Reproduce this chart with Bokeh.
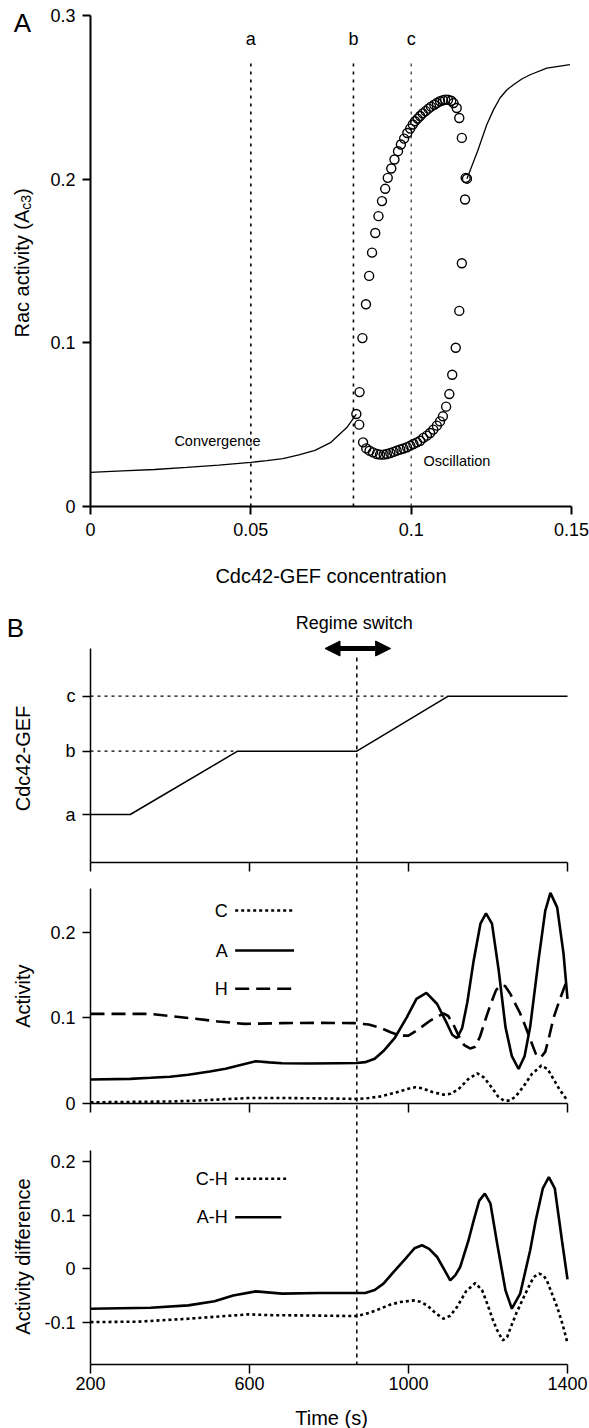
import math
from bokeh.plotting import figure
from bokeh.layouts import column
from bokeh.models import FixedTicker, Arrow, NormalHead, LinearAxis, Range1d
from bokeh.embed import file_html
from bokeh.resources import INLINE
from bokeh.core.properties import value

FONT = "Liberation Sans"

# ---------------- Panel A data ----------------
a_x_ticks = [0, 0.05, 0.1, 0.15]
a_x_labels = ["0", "0.05", "0.1", "0.15"]
a_y_ticks = [0, 0.1, 0.2, 0.3]
a_y_labels = ["0", "0.1", "0.2", "0.3"]

conv_x = [0, 0.01, 0.02, 0.03, 0.04, 0.05, 0.055, 0.06, 0.065, 0.07, 0.075, 0.08, 0.0829]
conv_y = [0.0209, 0.0218, 0.0226, 0.0239, 0.0253, 0.0270, 0.0280, 0.0293, 0.0315, 0.0343, 0.0392, 0.0484, 0.0565]

hi_x = [0.1174, 0.1207, 0.1236, 0.1257, 0.1277, 0.1298, 0.1319, 0.1345, 0.1371, 0.1423, 0.1495]
hi_y = [0.2003, 0.2171, 0.2334, 0.2425, 0.2496, 0.2545, 0.2577, 0.2612, 0.2638, 0.2679, 0.2700]

osc_max_x = [0.0829, 0.0839, 0.0848, 0.0859, 0.0869, 0.0878, 0.0888, 0.0898, 0.0909, 0.0919,
             0.0927, 0.0938, 0.0948, 0.0959, 0.0968, 0.0978, 0.0988, 0.0997, 0.1005, 0.1012,
             0.1020, 0.1028, 0.1036, 0.1045, 0.1054, 0.1062, 0.1072, 0.1080, 0.1090, 0.1099,
             0.1106, 0.1115, 0.1125, 0.1132, 0.1142, 0.1150, 0.1158, 0.1170, 0.1174]
osc_max_y = [0.0565, 0.0699, 0.1029, 0.1236, 0.1409, 0.1551, 0.1671, 0.1774, 0.1866, 0.1941,
             0.2008, 0.2065, 0.2120, 0.2171, 0.2212, 0.2248, 0.2282, 0.2309, 0.2334, 0.2354,
             0.2370, 0.2386, 0.2402, 0.2416, 0.2431, 0.2443, 0.2455, 0.2465, 0.2476, 0.2482,
             0.2486, 0.2485, 0.2479, 0.2465, 0.2435, 0.2374, 0.2252, 0.2008, 0.2003]

osc_min_x = [0.0838, 0.0850, 0.0860, 0.0870, 0.0881, 0.0893, 0.0903, 0.0914, 0.0924, 0.0935,
             0.0945, 0.0955, 0.0966, 0.0976, 0.0987, 0.0997, 0.1007, 0.1018, 0.1028, 0.1038,
             0.1049, 0.1059, 0.1069, 0.1080, 0.1090, 0.1099, 0.1109, 0.1119, 0.1128, 0.1139,
             0.1150, 0.1158, 0.1168]
osc_min_y = [0.0500, 0.0392, 0.0355, 0.0341, 0.0331, 0.0321, 0.0317, 0.0317, 0.0321, 0.0327,
             0.0334, 0.0341, 0.0348, 0.0354, 0.0362, 0.0372, 0.0382, 0.0392, 0.0402, 0.0419,
             0.0433, 0.0449, 0.0470, 0.0494, 0.0520, 0.0551, 0.0610, 0.0687, 0.0805, 0.0970,
             0.1195, 0.1486, 0.1876]

marker_names = ["a", "b", "c"]
marker_gef = [0.05, 0.082, 0.1]

# ---------------- Panel B data ----------------
b_x_ticks = [200, 600, 1000, 1400]
b_x_labels = ["200", "600", "1000", "1400"]

gef_level_names = ["a", "b", "c"]
gef_level_pos = [0.0, 1.15, 2.15]          # schematic axis positions of a, b, c
gef_t = [200, 300, 570, 870, 1100, 1400]
gef_level = [0, 0, 1, 1, 2, 2]
switch_time = 870
arrow_t = [790, 955]

act_ticks = [0, 0.1, 0.2]
act_labels = ["0", "0.1", "0.2"]

C_t = [200, 300, 400, 464, 530, 597, 700, 800, 871, 900, 930, 965, 1000, 1017, 1035, 1060,
       1088, 1105, 1125, 1150, 1173, 1190, 1210, 1225, 1240, 1255, 1270, 1290, 1310, 1334,
       1350, 1365, 1380, 1400]
C_y = [0.001, 0.0015, 0.002, 0.003, 0.0045, 0.006, 0.006, 0.0055, 0.005, 0.006, 0.008, 0.012,
       0.017, 0.0187, 0.0175, 0.013, 0.010, 0.011, 0.016, 0.028, 0.035, 0.030, 0.018, 0.008,
       0.003, 0.003, 0.008, 0.020, 0.034, 0.044, 0.040, 0.028, 0.016, 0.003]

A_t = [200, 300, 351, 400, 446, 500, 540, 580, 616, 650, 682, 750, 824, 870, 891, 915, 937,
       965, 996, 1020, 1045, 1072, 1097, 1110, 1122, 1135, 1148, 1164, 1181, 1195, 1210, 1227,
       1244, 1260, 1277, 1292, 1306, 1327, 1344, 1357, 1374, 1390, 1400]
A_y = [0.0277, 0.0285, 0.0297, 0.031, 0.0332, 0.037, 0.0402, 0.045, 0.0491, 0.0478, 0.0468,
       0.0465, 0.0468, 0.047, 0.048, 0.052, 0.061, 0.076, 0.1006, 0.122, 0.129, 0.116, 0.093,
       0.080, 0.076, 0.088, 0.118, 0.167, 0.210, 0.222, 0.210, 0.155, 0.089, 0.055, 0.040,
       0.055, 0.089, 0.167, 0.225, 0.246, 0.229, 0.175, 0.122]

H_t = [200, 351, 464, 521, 587, 682, 776, 866, 900, 930, 955, 980, 1000, 1021, 1055, 1088,
       1100, 1113, 1126, 1140, 1155, 1168, 1180, 1193, 1206, 1220, 1231, 1243, 1256, 1270,
       1281, 1294, 1306, 1320, 1332, 1344, 1355, 1365, 1376, 1386, 1400]
H_y = [0.1045, 0.1045, 0.0987, 0.0956, 0.0928, 0.0936, 0.094, 0.0936, 0.092, 0.088, 0.083,
       0.079, 0.079, 0.085, 0.0967, 0.105, 0.102, 0.092, 0.079, 0.068, 0.064, 0.066, 0.078,
       0.097, 0.115, 0.132, 0.1377, 0.137, 0.128, 0.115, 0.105, 0.090, 0.075, 0.058, 0.053,
       0.060, 0.080, 0.100, 0.115, 0.128, 0.1455]

diff_ticks = [-0.1, 0, 0.1, 0.2]
diff_labels = ["-0.1", "0", "0.1", "0.2"]

AH_t = [200, 351, 446, 512, 559, 616, 682, 776, 891, 915, 937, 965, 996, 1015, 1034, 1052,
        1072, 1090, 1105, 1118, 1130, 1151, 1164, 1178, 1192, 1206, 1223, 1244, 1260, 1281,
        1306, 1320, 1338, 1353, 1368, 1386, 1400]
AH_y = [-0.0748, -0.073, -0.0686, -0.061, -0.050, -0.0424, -0.0467, -0.0456, -0.0456, -0.040,
        -0.028, -0.004, 0.0217, 0.038, 0.0436, 0.037, 0.0217, -0.002, -0.0219, -0.012, 0.003,
        0.053, 0.090, 0.127, 0.140, 0.122, 0.047, -0.0406, -0.0748, -0.0467, 0.034, 0.090,
        0.150, 0.171, 0.150, 0.053, -0.020]

CH_t = [200, 320, 446, 530, 597, 660, 729, 800, 871, 900, 929, 955, 979, 1013, 1030, 1047,
        1068, 1088, 1105, 1122, 1145, 1168, 1185, 1198, 1212, 1223, 1237, 1248, 1256, 1272,
        1290, 1305, 1315, 1329, 1340, 1348, 1360, 1374, 1388, 1400]
CH_y = [-0.0998, -0.099, -0.0935, -0.089, -0.0854, -0.087, -0.0873, -0.088, -0.0886, -0.083,
        -0.0748, -0.067, -0.0624, -0.0593, -0.062, -0.0686, -0.083, -0.0935, -0.088, -0.0717,
        -0.042, -0.027, -0.040, -0.0654, -0.095, -0.115, -0.134, -0.128, -0.112, -0.082,
        -0.053, -0.030, -0.0157, -0.0093, -0.013, -0.022, -0.045, -0.0717, -0.105, -0.139]

mid_legend = ["C", "A", "H"]
bot_legend = ["C-H", "A-H"]

# ---------------- layout (page pixels) ----------------
W = 589
A_H = 595            # panel A canvas: page y 0..595
B_TOP, B_BOT = 595, 1428


def pix_map(v0, p0, v1, p1):
    """linear map page-pixel -> data value, given two anchor pairs"""
    k = (v1 - v0) / (p1 - p0)
    return lambda p: v0 + (p - p0) * k


def new_fig(w, h, xr, yr):
    p = figure(width=w, height=h, x_range=xr, y_range=yr, output_backend="svg",
               toolbar_location=None, x_axis_location=None, y_axis_location=None,
               min_border=0, min_border_left=0, min_border_right=0,
               min_border_top=0, min_border_bottom=0)
    p.title.visible = False
    p.grid.visible = False
    p.outline_line_color = None
    p.background_fill_color = "white"
    p.border_fill_color = "white"
    return p


def add_axis(p, side, ticks, labels, size, tick_out, standoff, fixed, bounds,
             width=1.5, y_range_name="default"):
    ax = LinearAxis(fixed_location=fixed, bounds=bounds, y_range_name=y_range_name)
    ax.ticker = FixedTicker(ticks=ticks)
    ax.major_label_overrides = dict(zip(ticks, labels))
    ax.major_label_text_font = FONT
    ax.major_label_text_font_size = size
    ax.major_label_text_color = "black"
    ax.major_tick_out = tick_out
    ax.major_tick_in = 0
    ax.minor_tick_out = 0
    ax.minor_tick_in = 0
    ax.major_label_standoff = standoff
    ax.axis_line_width = width
    ax.axis_line_color = "black"
    ax.major_tick_line_width = width
    ax.major_tick_line_color = "black"
    p.add_layout(ax, side)
    return ax


def txt(p, x, y, text, size, align="center", angle=0.0, y_range_name="default"):
    p.text(x=[x], y=[y], text=[text], text_font=value(FONT), text_font_size=value(size),
           text_align=align, text_baseline="middle", angle=angle, text_color="black",
           y_range_name=y_range_name)


# ================= Panel A =================
ax_px = pix_map(0, 90, 0.15, 571)
ay_px = pix_map(0, 506, 0.3, 15)
pa = new_fig(W, A_H, Range1d(ax_px(0), ax_px(W)), Range1d(ay_px(A_H), ay_px(0)))
add_axis(pa, "below", a_x_ticks, a_x_labels, "18px", 8, 8, 0, (0, 0.15), width=2)
add_axis(pa, "left", a_y_ticks, a_y_labels, "18px", 8, 7, 0, (0, 0.3), width=2)

for g, w in zip(marker_gef, [1.6, 1.6, 1.0]):
    pa.segment(x0=g, y0=0, x1=g, y1=ay_px(58), line_color="black", line_width=w,
               line_dash="3 5")
pa.text(x=marker_gef, y=[ay_px(38)] * 3, text=marker_names, text_font=value(FONT),
        text_font_size=value("18px"), text_align="center", text_baseline="middle")

pa.line(conv_x, conv_y, line_color="black", line_width=1.3)
pa.line(hi_x, hi_y, line_color="black", line_width=1.3)
pa.scatter(osc_max_x, osc_max_y, marker="circle", size=9, fill_color=None,
           line_color="black", line_width=1.4)
pa.scatter(osc_min_x, osc_min_y, marker="circle", size=9, fill_color=None,
           line_color="black", line_width=1.4)
txt(pa, ax_px(217), ay_px(440), "Convergence", "14.5px")
txt(pa, ax_px(423), ay_px(460.7), "Oscillation", "14.5px", align="left")

txt(pa, ax_px(22), ay_px(22.5), "A", "26px")
# y label with subscript: "Rac activity (A" + "c3" + ")"
ylab_bottom, w_main, w_sub = 337, 127.8, 14.8
txt(pa, ax_px(21), ay_px(ylab_bottom), "Rac activity (A", "20px", align="left", angle=math.pi / 2)
txt(pa, ax_px(25), ay_px(ylab_bottom - w_main), "c3", "14px", align="left", angle=math.pi / 2)
txt(pa, ax_px(21), ay_px(ylab_bottom - w_main - w_sub), ")", "20px", align="left",
    angle=math.pi / 2)
txt(pa, ax_px(330.5), ay_px(575), "Cdc42-GEF concentration", "20px")

# ================= Panel B =================
bx_px = pix_map(200, 90, 1400, 567)
top_px = pix_map(gef_level_pos[0], 814, gef_level_pos[2], 695.7)
mid_px = pix_map(0, 1102.7, 0.2, 931.7)
bot_px = pix_map(-0.1, 1321.7, 0.2, 1161)

pb = new_fig(W, B_BOT - B_TOP, Range1d(bx_px(0), bx_px(W)),
             Range1d(mid_px(B_BOT), mid_px(B_TOP)))
pb.extra_y_ranges = {"top": Range1d(top_px(B_BOT), top_px(B_TOP)),
                     "bot": Range1d(bot_px(B_BOT), bot_px(B_TOP))}

# subplot boxes (page pixels of axis ends)
top_box = (648, 862)
mid_box = (888, 1102.7)
bot_box = (1150, 1364)
no_lab = [""] * len(b_x_ticks)

# top subplot axes
add_axis(pb, "left", gef_level_pos, gef_level_names, "18px", 8, 7, 200,
         (top_px(top_box[1]), top_px(top_box[0])), y_range_name="top")
add_axis(pb, "below", b_x_ticks, no_lab, "0px", 9, 0, top_px(top_box[1]), (200, 1400),
         y_range_name="top")
# middle subplot axes
add_axis(pb, "left", act_ticks, act_labels, "18px", 8, 7, 200,
         (mid_px(mid_box[1]), mid_px(mid_box[0])))
add_axis(pb, "below", b_x_ticks, no_lab, "0px", 9, 0, mid_px(mid_box[1]), (200, 1400))
# bottom subplot axes
add_axis(pb, "left", diff_ticks, diff_labels, "18px", 8, 7, 200,
         (bot_px(bot_box[1]), bot_px(bot_box[0])), y_range_name="bot")
add_axis(pb, "below", b_x_ticks, b_x_labels, "18px", 9, 3, bot_px(bot_box[1]), (200, 1400),
         y_range_name="bot")

# top subplot content
gef_y = [gef_level_pos[i] for i in gef_level]
pb.line(gef_t, gef_y, line_color="black", line_width=1.5, y_range_name="top")
for lev in (1, 2):
    t_reach = gef_t[gef_level.index(lev)]
    pb.segment(x0=200, y0=gef_level_pos[lev], x1=t_reach, y1=gef_level_pos[lev],
               line_color="black", line_width=1.3, line_dash="3 4", y_range_name="top")
pb.add_layout(Arrow(start=NormalHead(size=15, fill_color="black", line_color="black"),
                    end=NormalHead(size=15, fill_color="black", line_color="black"),
                    x_start=arrow_t[0], x_end=arrow_t[1], y_start=top_px(648),
                    y_end=top_px(648), line_width=5, line_color="black",
                    y_range_name="top"))
txt(pb, bx_px(353.7), top_px(622.7), "Regime switch", "18px", y_range_name="top")
txt(pb, bx_px(15), top_px(627), "B", "26px", y_range_name="top")
txt(pb, bx_px(22), top_px(758), "Cdc42-GEF", "20px", angle=math.pi / 2, y_range_name="top")

# regime-switch line through all three subplots
pb.segment(x0=switch_time, y0=bot_px(657), x1=switch_time, y1=bot_px(bot_box[1]),
           line_color="black", line_width=1.5, line_dash="4 4", y_range_name="bot")

# middle subplot content
pb.line(C_t, C_y, line_color="black", line_width=2.6, line_dash="3 3")
pb.line(A_t, A_y, line_color="black", line_width=2.6)
pb.line(H_t, H_y, line_color="black", line_width=2.6, line_dash="14 7")
mid_ly = [mid_px(910), mid_px(950), mid_px(988.3)]
pb.text(x=[545] * 3, y=mid_ly, text=mid_legend, text_font=value(FONT),
        text_font_size=value("18px"), text_align="right", text_baseline="middle")
for yy, dash in zip(mid_ly, ["3 3", "solid", "14 7"]):
    pb.line([564, 712], [yy, yy], line_color="black", line_width=2.6, line_dash=dash)
txt(pb, bx_px(22), mid_px(995.7), "Activity", "20px", angle=math.pi / 2)

# bottom subplot content
pb.line(CH_t, CH_y, line_color="black", line_width=2.6, line_dash="3 3", y_range_name="bot")
pb.line(AH_t, AH_y, line_color="black", line_width=2.6, y_range_name="bot")
bot_ly = [bot_px(1178.3), bot_px(1216.7)]
pb.text(x=[545] * 2, y=bot_ly, text=bot_legend, text_font=value(FONT),
        text_font_size=value("18px"), text_align="right", text_baseline="middle",
        y_range_name="bot")
for yy, dash, x_end in zip(bot_ly, ["3 3", "solid"], [692, 680]):
    pb.line([564, x_end], [yy, yy], line_color="black", line_width=2.6, line_dash=dash,
            y_range_name="bot")
txt(pb, bx_px(22), bot_px(1256), "Activity difference", "20px", angle=math.pi / 2,
    y_range_name="bot")
txt(pb, bx_px(331), bot_px(1417), "Time (s)", "20px", y_range_name="bot")

layout = column(pa, pb, spacing=0)
open("out.html", "w").write(file_html(layout, INLINE))
